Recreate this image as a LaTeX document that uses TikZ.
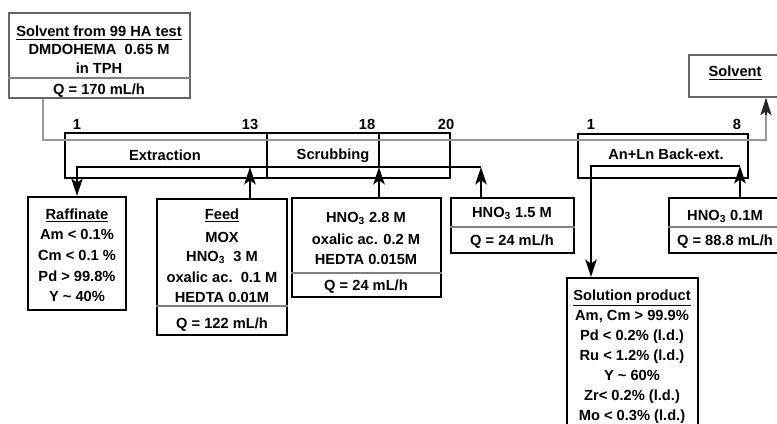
\documentclass[tikz,border=0pt]{standalone}
\usepackage{fontspec}
\setmainfont{Liberation Sans}
\usetikzlibrary{fit,arrows.meta}
\begin{document}
\begin{tikzpicture}[x=0.75pt,y=-0.75pt,
  font=\fontsize{11}{13}\selectfont\bfseries,
  box/.style={draw=black,line width=1.6pt,inner sep=0pt},
  gbox/.style={draw=gray!80!black,line width=1.4pt,inner sep=0pt},
  sep/.style={draw=gray,line width=0.8pt},
  txt/.style={anchor=base,inner sep=0pt},
  flow/.style={draw=black,line width=1.7pt},
  tip/.style={-{Stealth[length=13pt,width=8.5pt,inset=3pt]}},
  arr/.style={flow,tip},
  solvline/.style={draw=gray!70!black,line width=0.6pt,double=gray!80,double distance=1pt},
]
\useasboundingbox (0,0) rectangle (777,424);
\clip (0,0) rectangle (777,424);

% solvent in box
\node[gbox,fit={(9,13)(190,98)}] (solvin) {};
\draw[sep] (8,78) -- (solvin.east |- 0,78);
\node[txt] (s1) at (99,37) {\underline{Solvent from 99 HA test}};
\node[txt] (s2) at (99,55) {DMDOHEMA\ \ 0.65 M};
\node[txt] (s3) at (99,74) {in TPH};
\node[txt] (s4) at (99,95) {Q = 170 mL/h};

% solvent out box
\node[gbox,fit={(689,55)(781,97)}] (solvout) {};
\node[txt] (so) at (735,77) {\underline{Solvent}};

% extraction / scrubbing block
\node[box,fit={(65,133)(450,178)}] (extr) {};
\coordinate (d13t) at (267,133); \coordinate (d13b) at (267,178);
\draw[flow] (d13t) -- (d13b);
\coordinate (d18t) at (379,133); \coordinate (d18b) at (379,167);
\draw[flow] (d18t) -- (d18b);
\node[txt] (lext) at (165,161) {Extraction};
\node[txt] (lscr) at (333,160) {Scrubbing};
\node[txt] (n1) at (77,130) {1};
\node[txt] (n13) at (250,130) {13};
\node[txt] (n18) at (367,130) {18};
\node[txt] (n20) at (446,130) {20};

% back extraction block
\node[box,fit={(578,134)(748,178)}] (back) {};
\node[txt] (lback) at (666,160) {An+Ln Back-ext.};
\node[txt] (b1) at (591,130) {1};
\node[txt] (b8) at (737,130) {8};

% raffinate
\node[box,fit={(28,197)(126,310)}] (raff) {};
\node[txt] at (77,219) {\underline{Raffinate}};
\node[txt] at (77,239) {Am {<} 0.1\%};
\node[txt] at (77,260) {Cm {<} 0.1 \%};
\node[txt] at (77,281) {Pd {>} 99.8\%};
\node[txt] at (77,301) {Y {\char`\~} 40\%};

% feed
\node[box,fit={(157,199)(287,335)}] (feed) {};
\draw[sep] (feed.west |- 0,306) -- (feed.east |- 0,306);
\node[txt] at (222,219) {\underline{Feed}};
\node[txt] at (222,242) {MOX};
\node[txt] at (222,261) {HNO\textsubscript{3}\ \ 3 M};
\node[txt] at (222,282) {oxalic ac.\ \ 0.1 M};
\node[txt] at (222,302) {HEDTA 0.01M};
\node[txt] at (222,328) {Q = 122 mL/h};

% scrubbing feed
\node[box,fit={(292,198)(441,297)}] (scrub) {};
\draw[sep] (scrub.west |- 0,273) -- (scrub.east |- 0,273);
\node[txt] at (366,222) {HNO\textsubscript{3} 2.8 M};
\node[txt] at (366,244) {oxalic ac. 0.2 M};
\node[txt] at (366,264) {HEDTA 0.015M};
\node[txt] at (366,290) {Q = 24 mL/h};

% HNO3 1.5 M
\node[box,fit={(451,198)(574,253)}] (hnoa) {};
\draw[sep] (hnoa.west |- 0,227) -- (hnoa.east |- 0,227);
\node[txt] at (512,217) {HNO\textsubscript{3} 1.5 M};
\node[txt] at (512,245) {Q = 24 mL/h};

% HNO3 0.1 M
\node[box,fit={(669,198)(781,253)}] (hnob) {};
\draw[sep] (hnob.west |- 0,227) -- (hnob.east |- 0,227);
\node[txt] at (725,220) {HNO\textsubscript{3} 0.1M};
\node[txt] at (725,245) {Q = 88.8 mL/h};

% solution product
\node[box,fit={(567,278)(698,432)}] (prod) {};
\node[txt] at (632,300) {\underline{Solution product}};
\node[txt] at (632,320) {Am, Cm {>} 99.9\%};
\node[txt] at (632,340) {Pd {<} 0.2\% (l.d.)};
\node[txt] at (632,360) {Ru {<} 1.2\% (l.d.)};
\node[txt] at (632,380) {Y {\char`\~} 60\%};
\node[txt] at (632,400) {Zr{<} 0.2\% (l.d.)};
\node[txt] at (632,420) {Mo {<} 0.3\% (l.d.)};

% solvent flow
\coordinate (sv1) at (43,140);
\coordinate (sv2) at (766,140);
\draw[solvline] (solvin.south -| sv1) -- (sv1) -- (sv2) -- ([yshift=-1pt]solvout.south -| sv2);
\draw[draw=black!85,line width=1pt,tip] (766,115) -- (solvout.south -| sv2);

% aqueous flows, extraction/scrubbing
\coordinate (aq1) at (481,167);
\coordinate (aq0) at (77,167);
\draw[arr] (hnoa.north -| aq1) -- (aq1);
\draw[arr] (aq1) -- (aq0) -- (raff.north);
\draw[arr] (feed.north -| 250,0) -- (250,167);
\draw[arr] (scrub.north -| d18b) -- (d18b);

% back extraction flows
\coordinate (bq1) at (740,166);
\coordinate (bq0) at (591,166);
\draw[arr] (hnob.north -| bq1) -- (bq1);
\draw[arr] (bq1) -- (bq0) -- (prod.north -| bq0);
\end{tikzpicture}
\end{document}
